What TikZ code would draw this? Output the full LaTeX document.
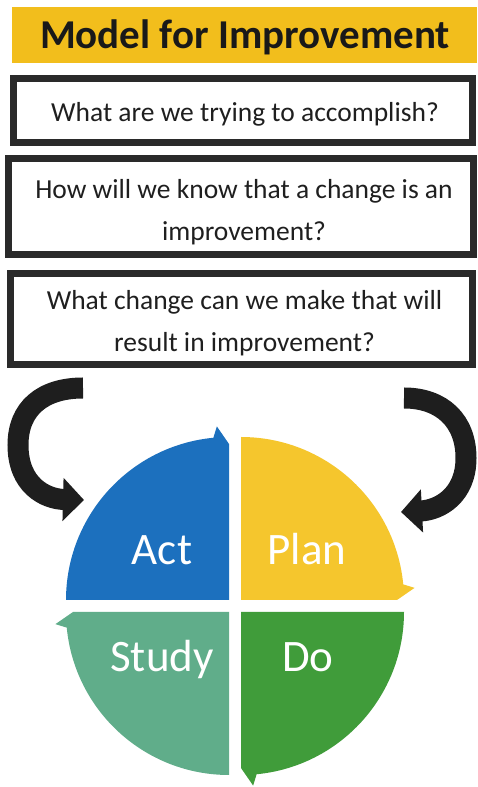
\documentclass[tikz,border=0pt]{standalone}
\usepackage{fontspec}
\setmainfont{Carlito}
\usetikzlibrary{arrows.meta}
\definecolor{titleyellow}{RGB}{242,190,28}
\definecolor{boxgray}{RGB}{42,42,42}
\definecolor{actblue}{RGB}{28,112,190}
\definecolor{planyellow}{RGB}{245,198,45}
\definecolor{studygreen}{RGB}{96,173,138}
\definecolor{dogreen}{RGB}{64,156,58}
\definecolor{arrowblack}{RGB}{30,30,30}
\begin{document}
\begin{tikzpicture}[x=1pt,y=1pt,
  titlebar/.style={fill=titleyellow, minimum width=465pt, minimum height=56pt, inner sep=0pt},
  titletext/.style={text=black!90, font=\fontsize{41}{41}\selectfont\bfseries, inner sep=0pt},
  qbox/.style={draw=boxgray, line width=7pt, fill=white, inner sep=0pt},
  qtext/.style={align=center, inner sep=0pt, text=black!88, font=\fontsize{27.5}{42}\selectfont},
  qlabel/.style={text=white, font=\fontsize{45}{45}\selectfont, inner sep=0pt, anchor=base},
  bigarrow/.style={draw=arrowblack, line width=21pt, -{Triangle[width=42pt,length=21pt]}}]
\useasboundingbox (0,0) rectangle (477,787);
\fill[white] (0,0) rectangle (477,787);

\node[titlebar] (bar) at (244.5,752) {};
\node[titletext] (title) at ([xshift=0.5pt,yshift=-2pt]bar.center) {Model for Improvement};

\node[qbox, minimum width=459pt, minimum height=64pt] (q1) at (243,676.5) {};
\node[qbox, minimum width=465pt, minimum height=96pt] (q2) at (241,580.5) {};
\node[qbox, minimum width=462pt, minimum height=91pt] (q3) at (241.5,468) {};
\node[qtext] (t1) at ([xshift=2pt,yshift=-4pt]q1.center) {What are we trying to accomplish?};
\node[qtext] (t2) at ([xshift=3pt,yshift=-6pt]q2.center) {How will we know that a change is an\\improvement?};
\node[qtext] (t3) at ([xshift=3pt,yshift=-4pt]q3.center) {What change can we make that will\\result in improvement?};

\foreach \cx/\cy/\a/\col in {229/187/180/actblue, 241/187/90/planyellow, 241/175/0/dogreen, 229/175/-90/studygreen}
  \fill[\col, shift={(\cx,\cy)}] (0,0) -- (\a:163) arc[start angle=\a, end angle=\a-84.5, radius=163]
     -- (\a-86:174) -- (\a-90:156) -- cycle;

\node[qlabel] (act) at (162,222) {Act};
\node[qlabel] (plan) at (307,222) {Plan};
\node[qlabel] (study) at (162,115) {Study};
\node[qlabel] (do) at (308,115) {Do};

\coordinate (la) at (83,399);
\coordinate (lt) at (84,287);
\draw[bigarrow] (la) .. controls (42,399) and (18,378) .. (18,342) .. controls (18,302) and (45,288) .. (lt);
\coordinate (ra) at (404,389);
\coordinate (rt) at (401,275);
\draw[bigarrow] (ra) .. controls (442,389) and (466,366) .. (466,329) .. controls (466,292) and (440,277) .. (rt);
\end{tikzpicture}
\end{document}
